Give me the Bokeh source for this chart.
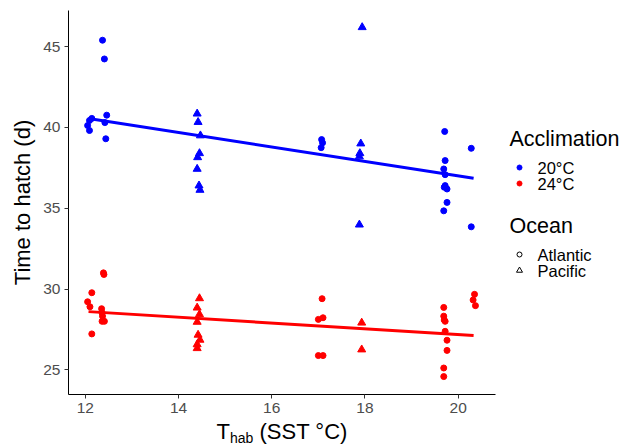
from bokeh.plotting import figure
from bokeh.models import Range1d, FixedTicker
from bokeh.layouts import row, column
from bokeh.core.properties import value
from bokeh.embed import file_html
from bokeh.resources import INLINE

# ---- data ----
# 20 °C acclimation, Atlantic (circles)
x_20_atl = [12.09, 12.14, 12.05, 12.09, 12.37, 12.41, 12.46, 12.42, 12.44,
            17.07, 17.09, 17.06,
            19.71, 19.72, 19.69, 19.72, 19.72, 19.70, 19.76, 19.76, 19.69,
            20.28, 20.28]
y_20_atl = [40.43, 40.56, 40.12, 39.81, 45.40, 44.24, 40.76, 40.30, 39.30,
            39.25, 39.05, 38.75,
            39.75, 37.95, 37.43, 37.08, 36.40, 36.30, 36.19, 35.36, 34.84,
            38.71, 33.85]
# 20 °C acclimation, Pacific (triangles)
x_20_pac = [14.40, 14.42, 14.47, 14.45, 14.41, 14.40, 14.44, 14.46,
            17.94, 17.91, 17.89, 17.88, 17.88]
y_20_pac = [40.85, 40.33, 39.50, 38.40, 38.15, 37.43, 36.40, 36.13,
            46.20, 39.00, 38.40, 38.20, 33.98]
# 24 °C acclimation, Atlantic (circles)
x_24_atl = [12.14, 12.05, 12.10, 12.14, 12.39, 12.40, 12.35, 12.36, 12.37, 12.36, 12.41,
            17.08, 17.10, 17.00, 17.00, 17.10,
            19.69, 19.69, 19.70, 19.72, 19.72, 19.76, 19.76, 19.69, 19.69,
            20.35, 20.32, 20.37]
y_24_atl = [29.77, 29.21, 28.90, 27.22, 31.00, 30.90, 28.78, 28.53, 28.32, 28.00, 28.00,
            29.40, 28.22, 28.12, 25.88, 25.88,
            28.86, 28.32, 28.08, 28.00, 27.38, 26.83, 26.20, 25.11, 24.58,
            29.67, 29.32, 28.97]
# 24 °C acclimation, Pacific (triangles)
x_24_pac = [14.45, 14.40, 14.45, 14.40, 14.42, 14.46, 14.40, 14.40,
            17.93, 17.93]
y_24_pac = [29.42, 28.84, 28.43, 27.96, 27.16, 26.85, 26.57, 26.33,
            27.91, 26.25]
# linear fits (end points)
fit_x = [12.07, 20.33]
fit_20 = [40.55, 36.85]
fit_24 = [28.60, 27.12]

x_ticks = [12, 14, 16, 18, 20]
y_ticks = [25, 30, 35, 40, 45]
acclimation_title = "Acclimation"
acclimation_labels = ["20°C", "24°C"]
acclimation_colors = ["#0000FF", "#FF0000"]
ocean_title = "Ocean"
ocean_labels = ["Atlantic", "Pacific"]
ocean_markers = ["circle", "triangle"]
y_title = "Time to hatch (d)"
x_title_parts = ["T", "hab", "(SST °C)"]

BLUE, RED = acclimation_colors
FONT = "Liberation Sans"

# ---------------- main panel ----------------
p = figure(width=500, height=416, output_backend="svg", toolbar_location=None,
           x_range=Range1d(11.64, 20.80), y_range=Range1d(23.47, 47.24),
           min_border_left=68, min_border_right=5, min_border_top=10, min_border_bottom=22)
p.frame_align = False
p.outline_line_color = None
p.xgrid.visible = False
p.ygrid.visible = False

for ax in (p.xaxis[0], p.yaxis[0]):
    ax.axis_line_color = "black"
    ax.axis_line_width = 1
    ax.major_tick_line_color = "#333333"
    ax.major_tick_out = 4
    ax.major_tick_in = 0
    ax.minor_tick_line_color = None
    ax.major_label_text_font = FONT
    ax.major_label_text_font_size = "15.5px"
    ax.major_label_text_color = "#4D4D4D"
    ax.major_label_standoff = 4

p.xaxis.ticker = FixedTicker(ticks=x_ticks)
p.yaxis.ticker = FixedTicker(ticks=y_ticks)
p.yaxis.axis_label = y_title
p.yaxis.axis_label_text_font = FONT
p.yaxis.axis_label_text_font_size = "22px"
p.yaxis.axis_label_text_font_style = "normal"
p.yaxis.axis_label_text_color = "black"
p.yaxis.axis_label_standoff = 5

p.scatter(x_20_atl, y_20_atl, marker="circle", size=6, color=BLUE)
p.scatter(x_20_pac, y_20_pac, marker="triangle", size=8, color=BLUE)
p.scatter(x_24_atl, y_24_atl, marker="circle", size=6, color=RED)
p.scatter(x_24_pac, y_24_pac, marker="triangle", size=8, color=RED)
p.line(fit_x, fit_20, line_width=3, color=BLUE)
p.line(fit_x, fit_24, line_width=3, color=RED)

# ---------------- legend panel (pixel coordinates) ----------------
lg = figure(width=130, height=416, output_backend="svg", toolbar_location=None,
            x_range=Range1d(500, 630), y_range=Range1d(416, 0),
            x_axis_type=None, y_axis_type=None, min_border=0)
lg.frame_align = False
lg.outline_line_color = None

txt = dict(text_font=value(FONT), text_color="black", text_baseline="middle", text_align="left")
lg.text(x=[509], y=[138], text=[acclimation_title], text_font_size="21.5px", **txt)
lg.scatter(x=[519, 519], y=[167, 183], marker="circle", size=5, color=acclimation_colors)
lg.text(x=[537, 537], y=[167, 183], text=acclimation_labels, text_font_size="16.5px", **txt)
lg.text(x=[509], y=[225], text=[ocean_title], text_font_size="21.5px", **txt)
lg.scatter(x=[519, 519], y=[254, 270], marker=ocean_markers, size=[5, 6],
           fill_color=None, line_color="black", line_width=1)
lg.text(x=[537, 537], y=[254, 270], text=ocean_labels, text_font_size="16.5px", **txt)

# ---------------- x-axis title panel (pixel coordinates from its bottom) ----------------
xt = figure(width=630, height=30, output_backend="svg", toolbar_location=None,
            x_range=Range1d(0, 630), y_range=Range1d(0, 30),
            x_axis_type=None, y_axis_type=None, min_border=0)
xt.frame_align = False
xt.outline_line_color = None
xtxt = dict(text_font=value(FONT), text_color="black", text_baseline="middle", text_align="left")
xt.text(x=[216], y=[15], text=[x_title_parts[0]], text_font_size="22px", **xtxt)
xt.text(x=[229.5], y=[8.5], text=[x_title_parts[1]], text_font_size="14px", **xtxt)
xt.text(x=[259], y=[15], text=[x_title_parts[2]], text_font_size="22px", **xtxt)

layout = column(row(p, lg, spacing=0), xt, spacing=0)
open("out.html", "w").write(file_html(layout, INLINE))
